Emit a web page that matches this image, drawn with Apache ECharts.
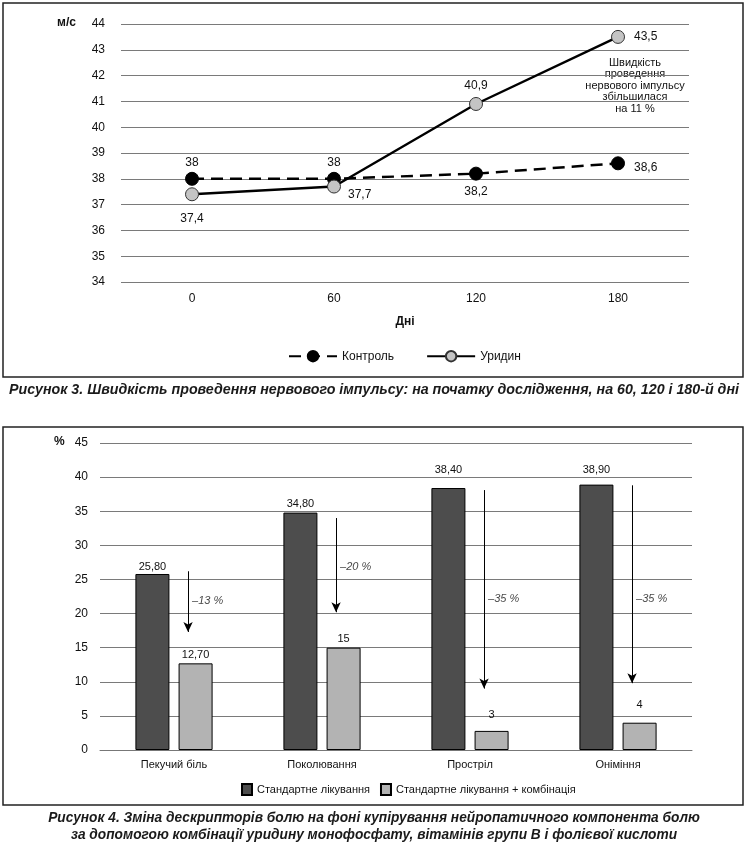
<!DOCTYPE html>
<html>
<head>
<meta charset="utf-8">
<script src="https://cdn.jsdelivr.net/npm/echarts@6/dist/echarts.min.js"></script>
<style>html,body{margin:0;padding:0;background:#fff}#c{width:749px;height:844px}</style>
</head>
<body>
<div id="c"></div>
<script>
// ---- Figure 3 data ----
const days = ['0', '60', '120', '180'];
const controlValues = [38, 38, 38.2, 38.6];
const uridineValues = [37.4, 37.7, 40.9, 43.5];
const speedTicks = [34, 44, 1];

// ---- Figure 4 data ----
const descriptors = ['Пекучий біль', 'Поколювання', 'Прострiл', 'Оніміння'];
const standardValues = [25.8, 34.8, 38.4, 38.9];
const standardLabels = ['25,80', '34,80', '38,40', '38,90'];
const comboValues = [12.7, 15, 2.8, 4];
const comboLabels = ['12,70', '15', '3', '4'];
const changeLabels = ['–13 %', '–20 %', '–35 %', '–35 %'];
const arrowFrom = [26.2, 34.0, 38.1, 38.8];
const arrowTo = [17.3, 20.2, 9.0, 9.8];
const changeLabelAt = [21.8, 26.8, 22.1, 22.1];

const FONT = '"Liberation Sans", Arial, sans-serif';

// label placement (styling)
const ctrlPos = [{position:'top', distance:3}, {position:'top', distance:3}, {position:'bottom'}, {position:'right', offset:[4,4]}];
const uriPos = [{position:'bottom', offset:[0,6]}, {position:'right', offset:[2,8]}, {position:'top', distance:5}, {position:'right', offset:[4,0]}];
const stdDist = [2, 3, 13, 9];
const comboDist = [3, 3, 10, 12];
const arrowOffset = 0.095;

const chart = echarts.init(document.getElementById('c'));
const fmt = v => String(v).replace('.', ',');

const option = {
  animation: false,
  backgroundColor: '#fff',
  textStyle: {fontFamily: FONT},
  grid: [
    {left: 121, top: 24, width: 568, height: 258},
    {left: 100, top: 443, width: 592, height: 307}
  ],
  xAxis: [
    {gridIndex: 0, type: 'category', data: days, boundaryGap: true,
     axisLine: {show: false}, axisTick: {show: false},
     axisLabel: {color: '#111', fontSize: 12, margin: 11, fontFamily: FONT},
     name: 'Дні', nameLocation: 'middle', nameGap: 34,
     nameTextStyle: {color: '#111', fontSize: 12, fontWeight: 'bold', fontFamily: FONT}},
    {gridIndex: 1, type: 'category', data: descriptors, boundaryGap: true,
     axisLine: {show: true, lineStyle: {color: '#777', width: 1}}, axisTick: {show: false},
     axisLabel: {color: '#111', fontSize: 11, margin: 9, fontFamily: FONT}},
    {gridIndex: 1, type: 'value', min: -0.5, max: 3.5, show: false}
  ],
  yAxis: [
    {gridIndex: 0, type: 'value', min: speedTicks[0], max: speedTicks[1], interval: speedTicks[2],
     axisLine: {show: false}, axisTick: {show: false},
     axisLabel: {color: '#111', fontSize: 12, margin: 16, fontFamily: FONT},
     splitLine: {lineStyle: {color: '#7a7a7a', width: 1}}},
    {gridIndex: 1, type: 'value', min: 0, max: 45, interval: 5,
     axisLine: {show: false}, axisTick: {show: false},
     axisLabel: {color: '#111', fontSize: 12, margin: 12, fontFamily: FONT},
     splitLine: {lineStyle: {color: '#7a7a7a', width: 1}}}
  ],
  legend: [
    {data: ['Контроль', 'Уридин'], top: 345, left: 283, itemWidth: 48, itemHeight: 13, itemGap: 32,
     textStyle: {color: '#111', fontSize: 12, fontFamily: FONT}},
    {data: ['Стандартне лікування', 'Стандартне лікування + комбінація'], top: 778, left: 236,
     itemWidth: 10, itemHeight: 11, itemGap: 10, icon: 'rect',
     textStyle: {color: '#111', fontSize: 11, fontFamily: FONT}}
  ],
  series: [
    {name: 'Контроль', type: 'line', xAxisIndex: 0, yAxisIndex: 0,
     data: controlValues.map((v, i) => ({value: v, label: ctrlPos[i]})),
     symbol: 'circle', symbolSize: 13,
     lineStyle: {color: '#000', width: 2.4, type: [12, 7]},
     itemStyle: {color: '#000', borderColor: '#000', borderWidth: 1},
     label: {show: true, color: '#111', fontSize: 12, fontFamily: FONT, formatter: p => fmt(p.value)},
     z: 3},
    {name: 'Уридин', type: 'line', xAxisIndex: 0, yAxisIndex: 0,
     data: uridineValues.map((v, i) => ({value: v, label: uriPos[i]})),
     symbol: 'circle', symbolSize: 13,
     lineStyle: {color: '#000', width: 2.4, type: 'solid'},
     itemStyle: {color: '#c4c4c4', borderColor: '#333', borderWidth: 1},
     label: {show: true, color: '#111', fontSize: 12, fontFamily: FONT, formatter: p => fmt(p.value)},
     z: 4},
    {name: 'Стандартне лікування', type: 'bar', xAxisIndex: 1, yAxisIndex: 1,
     data: standardValues.map((v, i) => ({value: v, label: {distance: stdDist[i]}})),
     barWidth: 34, barGap: '27%',
     itemStyle: {color: '#4d4d4d', borderColor: '#000', borderWidth: 1},
     label: {show: true, position: 'top', color: '#111', fontSize: 11, fontFamily: FONT,
             formatter: p => standardLabels[p.dataIndex]}},
    {name: 'Стандартне лікування + комбінація', type: 'bar', xAxisIndex: 1, yAxisIndex: 1,
     data: comboValues.map((v, i) => ({value: v, label: {distance: comboDist[i]}})),
     barWidth: 34,
     itemStyle: {color: '#b3b3b3', borderColor: '#000', borderWidth: 1},
     label: {show: true, position: 'top', color: '#111', fontSize: 11, fontFamily: FONT,
             formatter: p => comboLabels[p.dataIndex]}},
    {name: 'arrows', type: 'scatter', xAxisIndex: 2, yAxisIndex: 1,
     data: changeLabelAt.map((v, i) => [i + arrowOffset, v]),
     symbolSize: 0, silent: true,
     label: {show: true, position: 'right', distance: 4, color: '#111', fontSize: 11, fontStyle: 'italic',
             fontFamily: FONT, formatter: p => changeLabels[p.dataIndex]},
     markLine: {silent: true, symbol: ['none', 'arrow'], symbolSize: [7, 10],
       lineStyle: {color: '#000', width: 1, type: 'solid'}, label: {show: false},
       data: arrowFrom.map((v, i) => [{coord: [i + arrowOffset, v]}, {coord: [i + arrowOffset, arrowTo[i]]}])},
     z: 5}
  ],
  graphic: [
    {type: 'rect', shape: {x: 3, y: 3, width: 740, height: 374}, style: {fill: 'none', stroke: '#222', lineWidth: 1.5}, silent: true},
    {type: 'rect', shape: {x: 3, y: 427, width: 740, height: 378}, style: {fill: 'none', stroke: '#222', lineWidth: 1.5}, silent: true},
    {type: 'text', left: 57, top: 17, style: {text: 'м/с', font: 'bold 12px ' + FONT, fill: '#111'}},
    {type: 'text', left: 54, top: 436, style: {text: '%', font: 'bold 12px ' + FONT, fill: '#111'}},
    {type: 'text', x: 635, y: 57, style: {text: 'Швидкість\nпроведення\nнервового імпульсу\nзбільшилася\nна 11 %',
      font: '11px ' + FONT, fill: '#111', textAlign: 'center', lineHeight: 11.5}},
    {type: 'text', x: 374, y: 382, scaleX: 0.95, style: {text: 'Рисунок 3. Швидкість проведення нервового імпульсу: на початку дослідження, на 60, 120 і 180-й дні',
      font: 'italic bold 15px ' + FONT, fill: '#1a1a1a', textAlign: 'center'}},
    {type: 'text', x: 374, y: 809, scaleX: 0.915, style: {text: 'Рисунок 4. Зміна дескрипторів болю на фоні купірування нейропатичного компонента болю\nза допомогою комбінації уридину монофосфату, вітамінів групи В і фолієвої кислоти',
      font: 'italic bold 15px ' + FONT, fill: '#1a1a1a', textAlign: 'center', lineHeight: 17}}
  ]
};
chart.setOption(option);
</script>
</body>
</html>
